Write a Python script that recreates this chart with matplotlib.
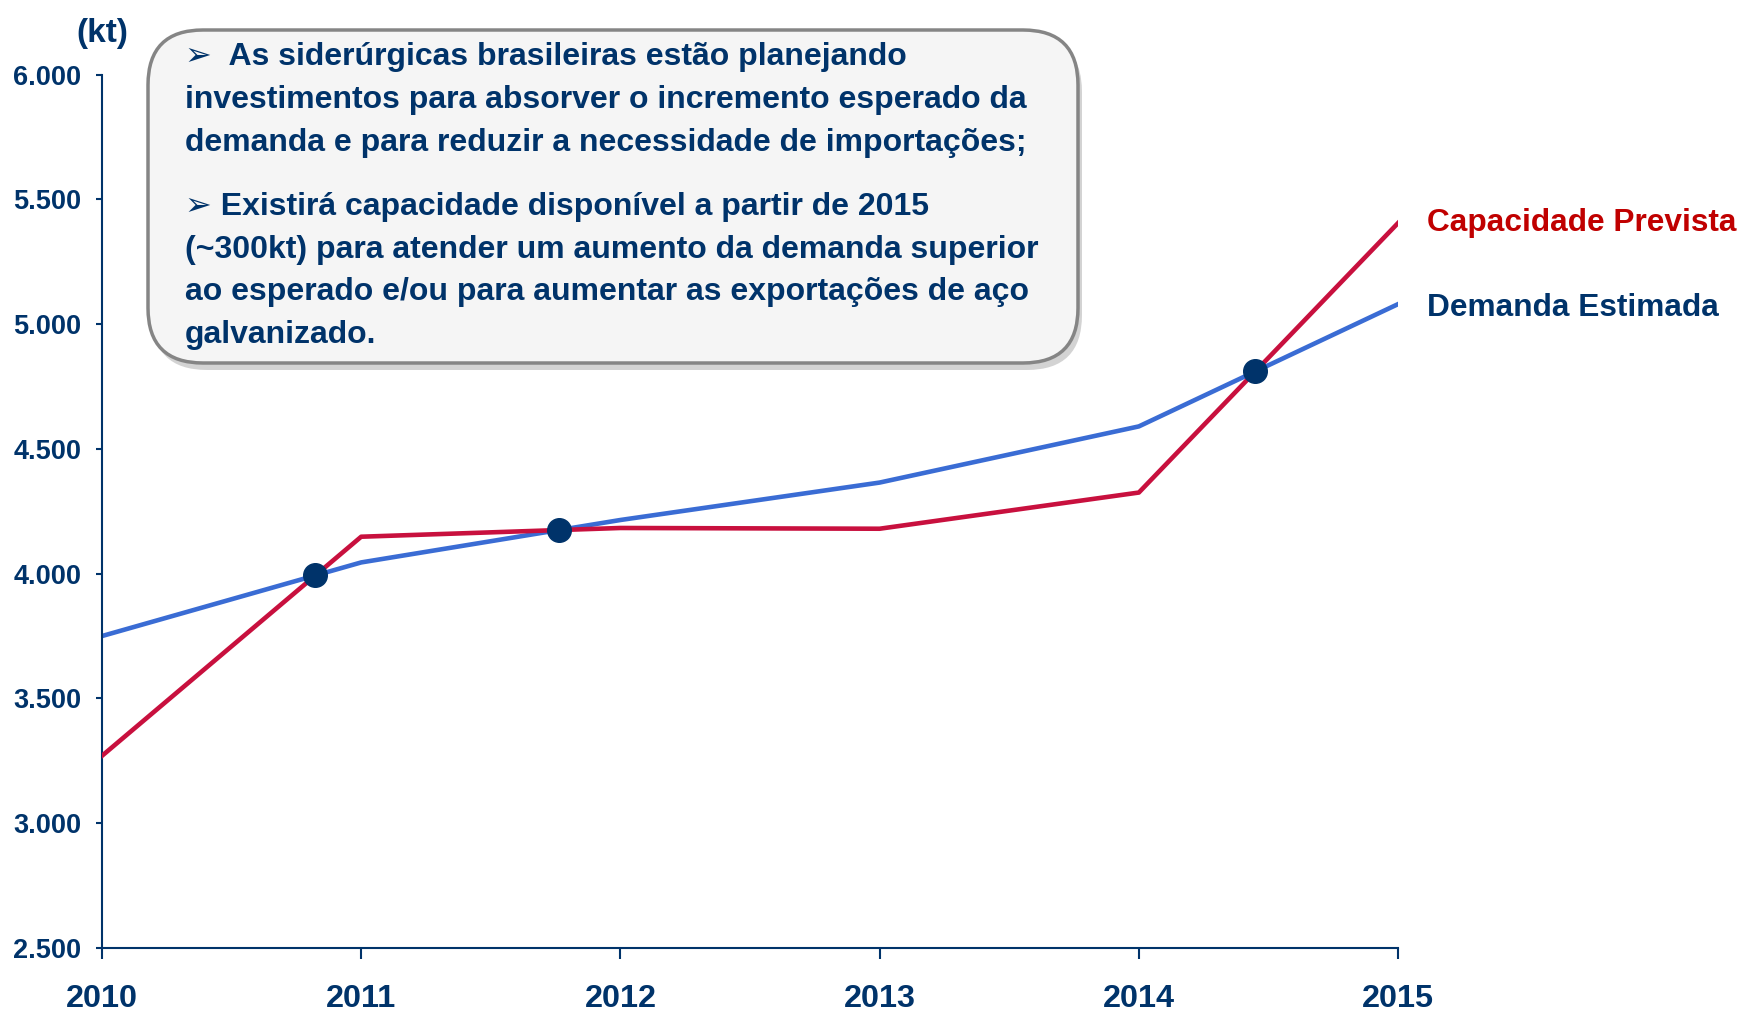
import numpy as np
import matplotlib.pyplot as plt
from matplotlib.patches import FancyBboxPatch

anos = [2010, 2011, 2012, 2013, 2014, 2015]
demanda = [3750, 4045, 4215, 4365, 4590, 5080]
capacidade = [3270, 4148, 4183, 4180, 4325, 5405]
yticks = [2500, 3000, 3500, 4000, 4500, 5000, 5500, 6000]

texto1 = ["\u27a2  As siderúrgicas brasileiras estão planejando",
          "investimentos para absorver o incremento esperado da",
          "demanda e para reduzir a necessidade de importações;"]
texto2 = ["\u27a2 Existirá capacidade disponível a partir de 2015",
          "(~300kt) para atender um aumento da demanda superior",
          "ao esperado e/ou para aumentar as exportações de aço",
          "galvanizado."]

azul_escuro = "#00336a"
azul = "#3a6cd4"
vermelho = "#c8103e"
fonte = ["Liberation Sans", "DejaVu Sans"]
plt.rcParams["font.family"] = fonte
plt.rcParams["font.weight"] = "bold"

fig = plt.figure(figsize=(17.43, 10.11), dpi=100)
ax = fig.add_axes([0.0585, 0.0623, 0.7436, 0.8640])

ax.plot(anos, demanda, color=azul, lw=3.3, zorder=2)
ax.plot(anos, capacidade, color=vermelho, lw=3.3, zorder=3)

# pontos de cruzamento das duas curvas
x = np.array(anos, float)
d = np.array(capacidade, float) - np.array(demanda, float)
for i in range(len(x) - 1):
    if d[i] * d[i + 1] < 0:
        t = d[i] / (d[i] - d[i + 1])
        xc = x[i] + t * (x[i + 1] - x[i])
        yc = demanda[i] + t * (demanda[i + 1] - demanda[i])
        ax.plot(xc, yc, "o", color=azul_escuro, ms=17, zorder=5)

ax.annotate("Capacidade Prevista", (anos[-1], capacidade[-1]), xytext=(21, 0),
            textcoords="offset points", va="center", ha="left",
            color="#c00000", fontsize=22.8, fontweight="bold", annotation_clip=False)
ax.annotate("Demanda Estimada", (anos[-1], demanda[-1]), xytext=(21, -3),
            textcoords="offset points", va="center", ha="left",
            color=azul_escuro, fontsize=22.8, fontweight="bold", annotation_clip=False)

ax.set_xlim(2010, 2015)
ax.set_ylim(2500, 6000)
ax.set_xticks(anos)
ax.set_yticks(yticks)
ax.set_yticklabels([f"{v:,}".replace(",", ".") for v in yticks])
for s in ["top", "right"]:
    ax.spines[s].set_visible(False)
for s in ["left", "bottom"]:
    ax.spines[s].set_color(azul_escuro)
    ax.spines[s].set_linewidth(1.5)
ax.tick_params(axis="y", length=4, width=1.5, color=azul_escuro, labelcolor=azul_escuro,
               labelsize=19.5, pad=11)
ax.tick_params(axis="x", length=8, width=1.5, color=azul_escuro, labelcolor=azul_escuro,
               labelsize=23.3, pad=18)
ax.text(0, 1.047, "(kt)", transform=ax.transAxes, ha="center", va="center",
        color=azul_escuro, fontsize=24, fontweight="bold")

# caixa de texto sobreposta (coordenadas em pixels)
ov = fig.add_axes([0, 0, 1, 1], zorder=10)
ov.set_xlim(0, 1743)
ov.set_ylim(1011, 0)
ov.axis("off")
ov.patch.set_alpha(0)
sombra = FancyBboxPatch((152, 37), 930, 333, boxstyle="round,pad=0,rounding_size=55",
                        fc="#a8a8a8", ec="none", alpha=0.5)
ov.add_patch(sombra)
caixa = FancyBboxPatch((148, 30), 930, 333, boxstyle="round,pad=0,rounding_size=55",
                       fc="#f5f5f5", ec="#858585", lw=2.5)
ov.add_patch(caixa)
for i, linha in enumerate(texto1):
    ov.text(185, 57 + i * 43, linha, color=azul_escuro, fontsize=23, fontweight="bold",
            va="center", ha="left", family=fonte)
for i, linha in enumerate(texto2):
    ov.text(185, 207 + i * 42.7, linha, color=azul_escuro, fontsize=23, fontweight="bold",
            va="center", ha="left", family=fonte)

fig.savefig("out.png", dpi=100)
